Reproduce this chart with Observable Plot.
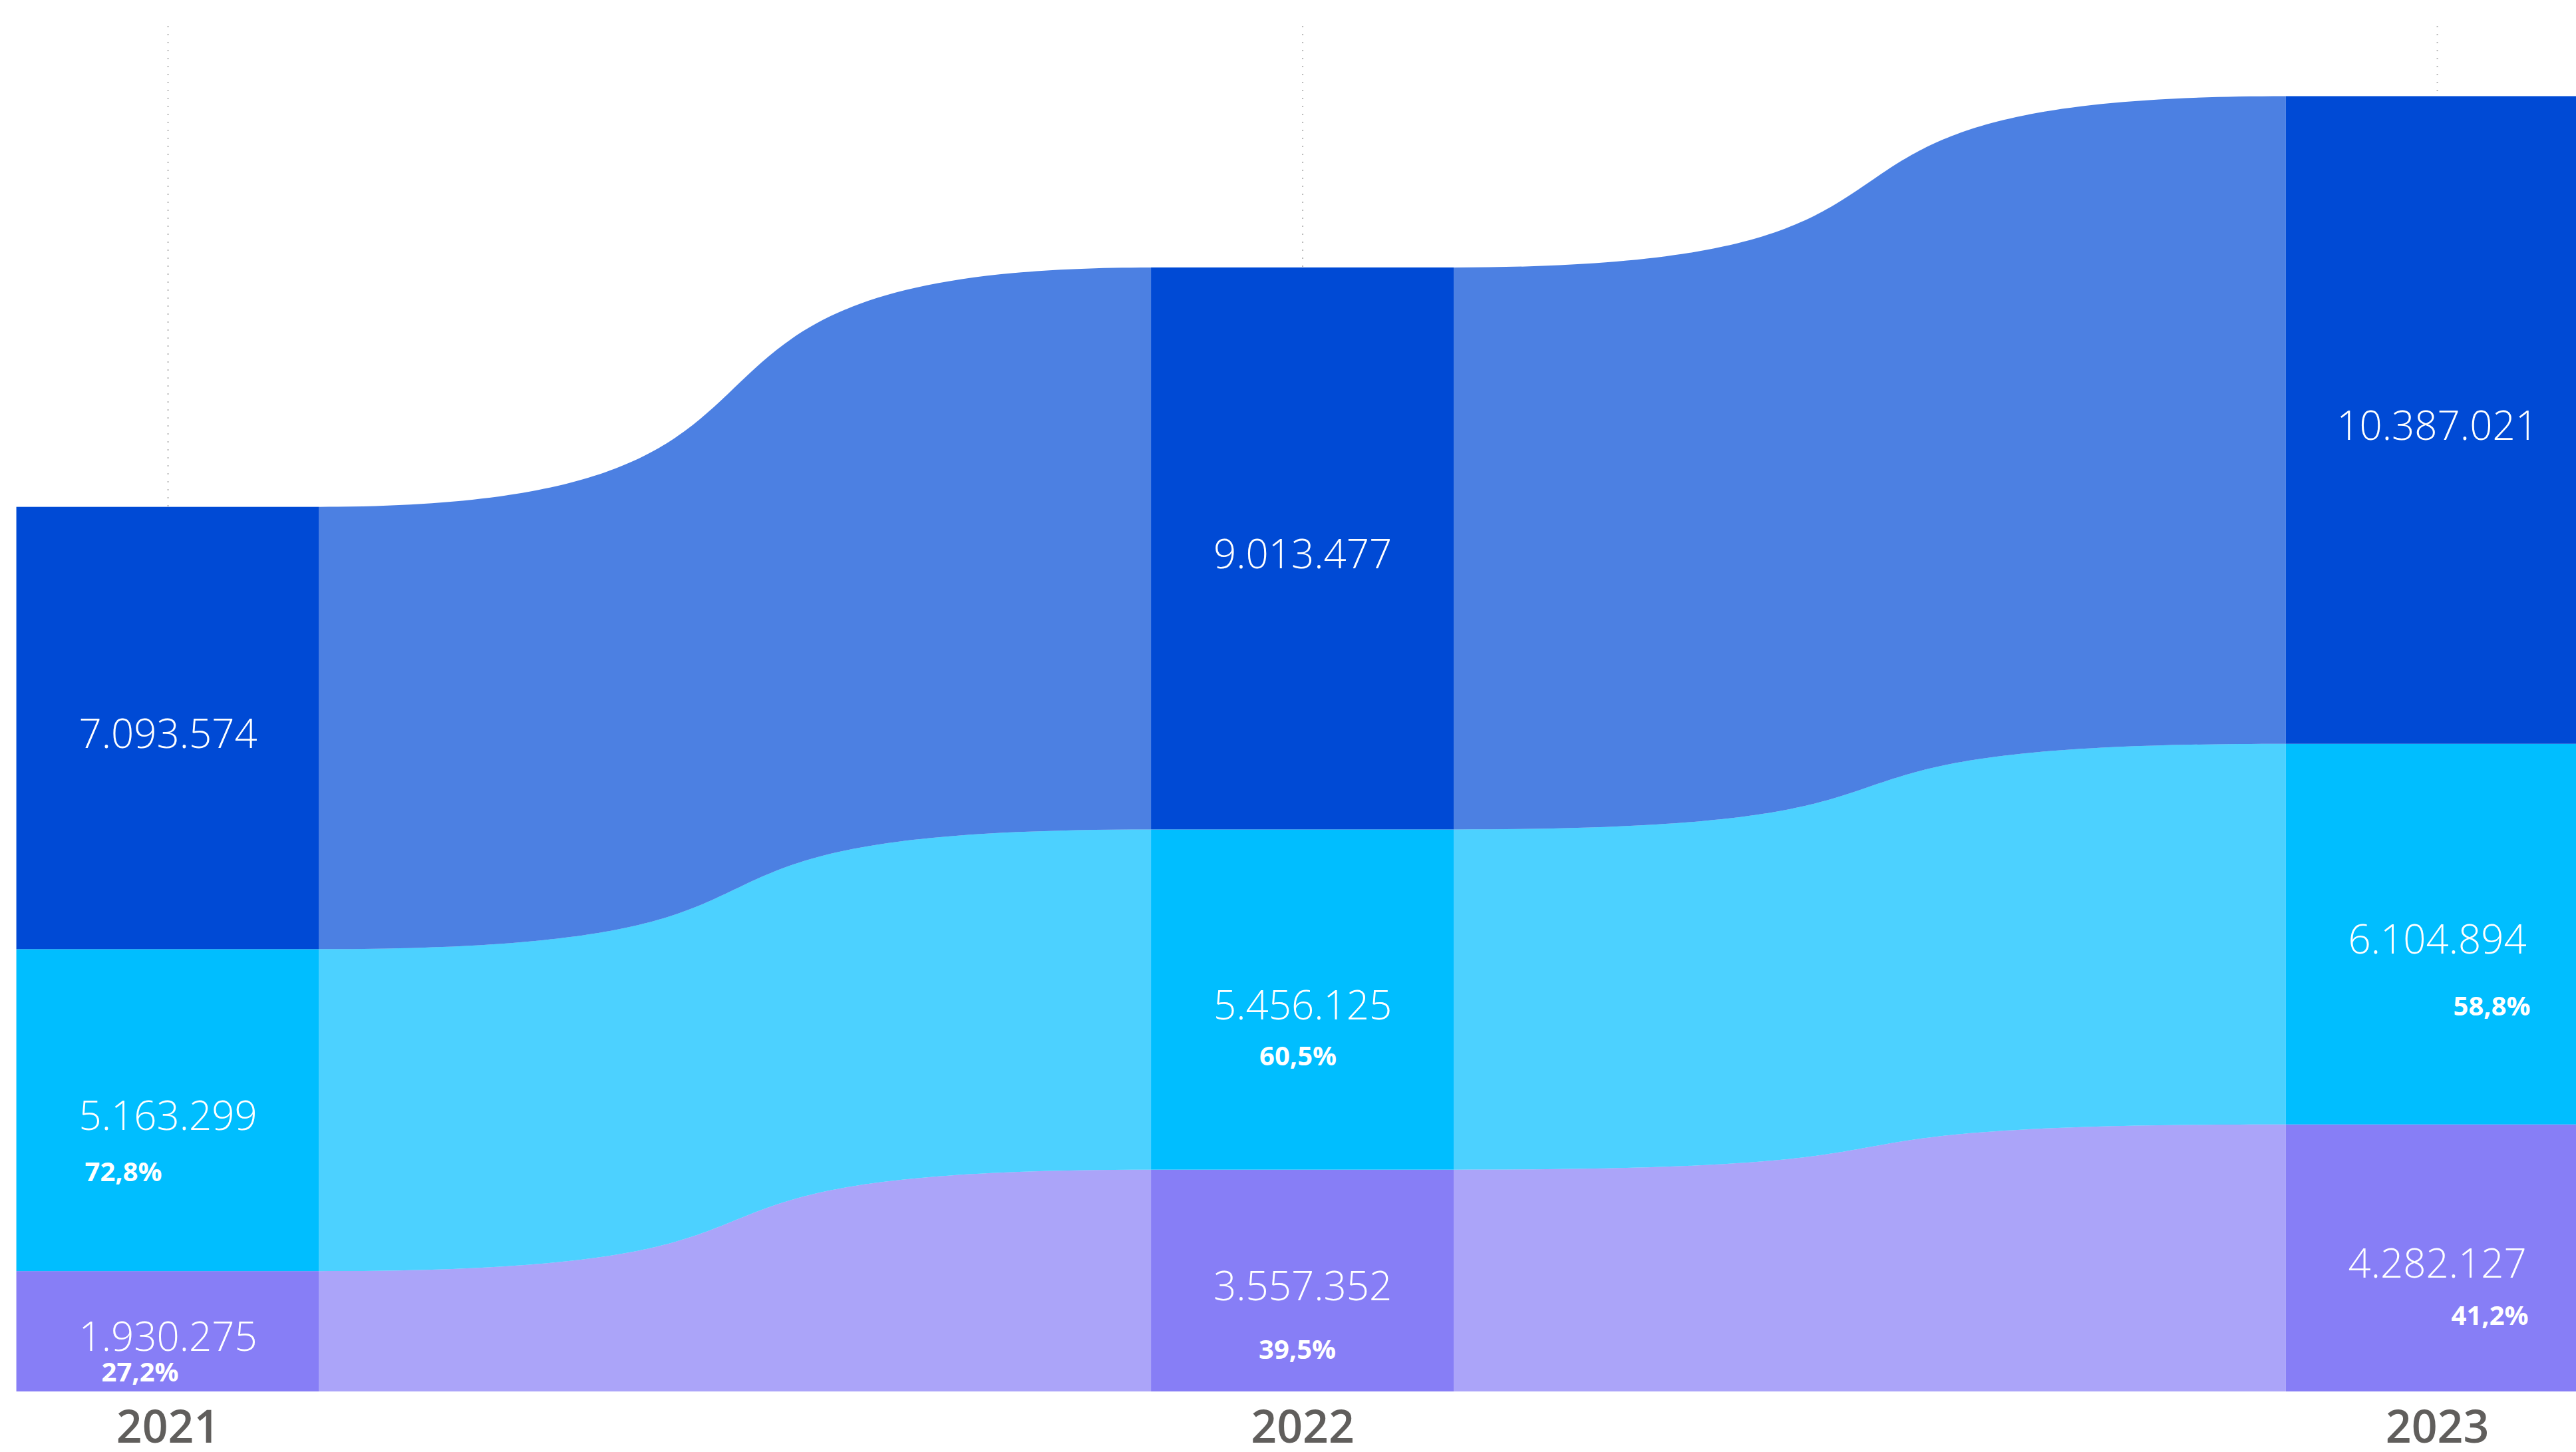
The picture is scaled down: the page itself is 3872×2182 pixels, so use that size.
<!DOCTYPE html>
<html>
<head>
<meta charset="utf-8">
<script src="https://cdn.jsdelivr.net/npm/d3@7"></script>
<script src="https://cdn.jsdelivr.net/npm/@observablehq/plot@0.6"></script>
<style>
  html, body { margin: 0; padding: 0; background: #ffffff; }
  #chart { width: 3872px; height: 2182px; overflow: hidden; }
  #chart svg { overflow: hidden; }
</style>
</head>
<body>
<div id="chart"></div>
<script>
// ---- data ----
const years = [2021, 2022, 2023];
const yearLabels = ["2021", "2022", "2023"];
const seriesNames = ["Purple", "Cyan", "Total"];          // stacking order, bottom to top
const purpleValues = [1930275, 3557352, 4282127];
const cyanValues = [5163299, 5456125, 6104894];
const totalValues = [7093574, 9013477, 10387021];
const seriesColors = ["#877EF6", "#00BEFF", "#004AD5"];

// ---- layout constants ----
const W = 3872, H = 2182;
const hw = 0.1334;                       // half bar width, in years
const xDomain = [2020.8522, 2023.1225];
const yDomain = [0, 21.9e6];
const ribbonTension = 0.7;               // control-point reach of the ribbon S-curve
// offsets of the share labels [dx, dy] per year, for Cyan then Purple
const pctOffsets = {
  2021: {Cyan: [-67, 93], Purple: [-42, 62]},
  2022: {Cyan: [-7, 86], Purple: [-8, 104]},
  2023: {Cyan: [82, 109], Purple: [79, 87]}
};

// S-shaped ribbon curve (horizontal tangents at both ends)
function ribbonCurve(a) {
  function C(context) { this._context = context; }
  C.prototype = {
    areaStart() { this._line = 0; },
    areaEnd() { this._line = NaN; },
    lineStart() { this._point = 0; },
    lineEnd() {
      if (this._line || (this._line !== 0 && this._point === 1)) this._context.closePath();
      this._line = 1 - this._line;
    },
    point(x, y) {
      x = +x; y = +y;
      switch (this._point) {
        case 0:
          this._point = 1;
          if (this._line) this._context.lineTo(x, y); else this._context.moveTo(x, y);
          break;
        case 1: this._point = 2; // falls through
        default: {
          const dx = x - this._x0;
          this._context.bezierCurveTo(this._x0 + a * dx, this._y0, x - a * dx, y, x, y);
          break;
        }
      }
      this._x0 = x; this._y0 = y;
    }
  };
  return context => new C(context);
}

const valuesBySeries = {Purple: purpleValues, Cyan: cyanValues, Total: totalValues};
const loc = d3.formatLocale({decimal: ",", thousands: ".", grouping: [3], currency: ["", ""]});
const fmtInt = loc.format(",d");
const fmtPct = loc.format(".1%");

const rows = years.flatMap((yr, i) => {
  let acc = 0;
  return seriesNames.map(s => {
    const v = valuesBySeries[s][i];
    const r = {year: yr, series: s, value: v, y1: acc, y2: acc + v, total: totalValues[i]};
    acc += v;
    return r;
  });
});

const ribbons = [];
for (let t = 0; t < years.length - 1; t++) {
  for (const s of seriesNames) {
    const a = rows.find(r => r.year === years[t] && r.series === s);
    const b = rows.find(r => r.year === years[t + 1] && r.series === s);
    const key = s + "-" + t;
    ribbons.push({key, series: s, x: years[t] + hw, y1: a.y1, y2: a.y2});
    ribbons.push({key, series: s, x: years[t + 1] - hw, y1: b.y1, y2: b.y2});
  }
}

const pctRows = rows.filter(r => r.series !== "Total");
const pctMarks = pctRows.map(r => {
  const [dx, dy] = pctOffsets[r.year][r.series];
  return Plot.text([r], {
    x: "year", y: d => (d.y1 + d.y2) / 2,
    text: d => fmtPct(d.value / d.total),
    fill: "white", fontSize: 40, fontWeight: 700, dx, dy
  });
});

const chart = Plot.plot({
  width: W, height: H,
  marginTop: 39, marginBottom: 91, marginLeft: 0, marginRight: 0,
  style: {fontFamily: "'Segoe UI', 'Open Sans', sans-serif", background: "white"},
  x: {domain: xDomain, axis: null},
  y: {domain: yDomain, axis: null},
  color: {domain: seriesNames, range: seriesColors},
  marks: [
    Plot.gridX(years, {stroke: "#b8b8b8", strokeOpacity: 1, strokeWidth: 2, strokeDasharray: "2 10"}),
    Plot.areaY(ribbons, {x: "x", y1: "y1", y2: "y2", z: "key", fill: "series", fillOpacity: 0.7, curve: ribbonCurve(ribbonTension), clip: true}),
    Plot.rect(rows, {x1: d => d.year - hw, x2: d => d.year + hw, y1: "y1", y2: "y2", fill: "series", clip: true}),
    Plot.text(rows, {
      x: "year", y: d => (d.y1 + d.y2) / 2, text: d => fmtInt(d.value),
      fill: "white", fontSize: 60, fontWeight: 300, dy: 10
    }),
    ...pctMarks,
    Plot.axisX(years, {
      tickSize: 0, tickPadding: 28, fontSize: 68, fontWeight: 600,
      fill: "#605E5C", tickFormat: d => yearLabels[years.indexOf(d)]
    })
  ]
});
document.getElementById("chart").appendChild(chart);
</script>
</body>
</html>
